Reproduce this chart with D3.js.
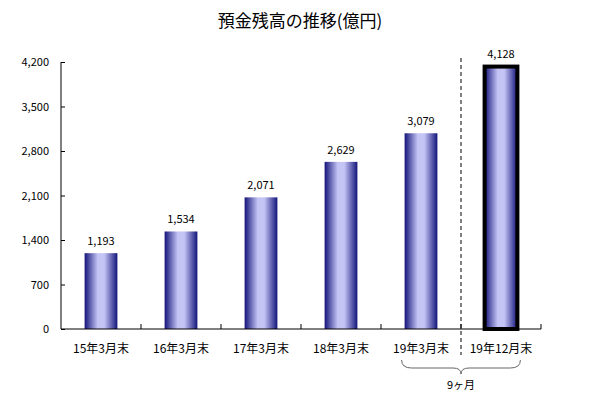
<!DOCTYPE html><html><head><meta charset="utf-8"><script src="https://cdn.jsdelivr.net/npm/d3@7"></script>
<style>body{margin:0;background:#fff}text{font-family:"Noto Sans CJK JP",sans-serif}</style></head><body>
<svg id="c" width="600" height="400"></svg>
<script>
const categories=["15年3月末","16年3月末","17年3月末","18年3月末","19年3月末","19年12月末"];
const values=[1193,1534,2071,2629,3079,4128];
const yTicks=[0,700,1400,2100,2800,3500,4200];
const svg=d3.select("#c");
const L=61,R=541,T=62,B=329;
const x=d3.scaleBand().domain(categories).range([L,R]).paddingInner(0.59).paddingOuter(0.295);
const y=d3.scaleLinear().domain([0,4200]).range([B,T]);
const g=svg.append("defs").append("linearGradient").attr("id","gr");
[[0,"#14147a"],[0.4,"#c4c4f5"],[0.6,"#c4c4f5"],[1,"#14147a"]].forEach(s=>g.append("stop").attr("offset",s[0]).attr("stop-color",s[1]));
svg.append("text").attr("x",300).attr("y",27).attr("text-anchor","middle").attr("font-size",17).text("預金残高の推移(億円)");
svg.selectAll("rect.b").data(values).join("rect").attr("x",(d,i)=>x(categories[i])).attr("width",x.bandwidth())
 .attr("y",d=>y(d)).attr("height",d=>B-y(d)).attr("fill","url(#gr)")
 .attr("stroke",(d,i)=>i==5?"#000":"none").attr("stroke-width",4);
svg.selectAll("text.v").data(values).join("text").attr("x",(d,i)=>x(categories[i])+x.bandwidth()/2).attr("y",d=>y(d)-(d===4128?9:8))
 .attr("text-anchor","middle").attr("font-size",11).text(d3.format(","));
const ya=svg.append("g").attr("transform",`translate(${L},0)`).call(d3.axisRight(y).tickValues(yTicks).tickSize(4).tickFormat(""));
ya.selectAll("text").remove();
svg.selectAll("text.yl").data(yTicks).join("text").attr("x",L-12).attr("y",d=>y(d)+4).attr("text-anchor","end").attr("font-size",11).text(d3.format(","));
svg.append("line").attr("x1",L).attr("x2",R).attr("y1",B).attr("y2",B).attr("stroke","#000");
const bounds=d3.range(7).map(i=>L+i*(R-L)/6);
svg.selectAll("line.t").data(bounds.slice(1)).join("line").attr("x1",d=>d).attr("x2",d=>d).attr("y1",B-5).attr("y2",B).attr("stroke","#000");
svg.selectAll("text.c").data(categories).join("text").attr("x",d=>x(d)+x.bandwidth()/2).attr("y",353).attr("text-anchor","middle").attr("font-size",12).text(d=>d);
svg.select("g").select(".domain").remove();
svg.append("line").attr("x1",L).attr("x2",L).attr("y1",T).attr("y2",B).attr("stroke","#000");
svg.append("line").attr("x1",bounds[5]).attr("x2",bounds[5]).attr("y1",58).attr("y2",355).attr("stroke","#000").attr("stroke-dasharray","4,3");
const bx1=x(categories[4])-3,bx2=x(categories[5])+x.bandwidth()+3,mid=bounds[5];
svg.append("path").attr("fill","none").attr("stroke","#666").attr("d",`M${bx1},360 Q${bx1},368 ${bx1+10},368 L${mid-8},368 Q${mid},368 ${mid},374 Q${mid},368 ${mid+8},368 L${bx2-10},368 Q${bx2},368 ${bx2},360`);
svg.append("text").attr("x",mid).attr("y",389).attr("text-anchor","middle").attr("font-size",11).text("9ヶ月");
</script></body></html>
